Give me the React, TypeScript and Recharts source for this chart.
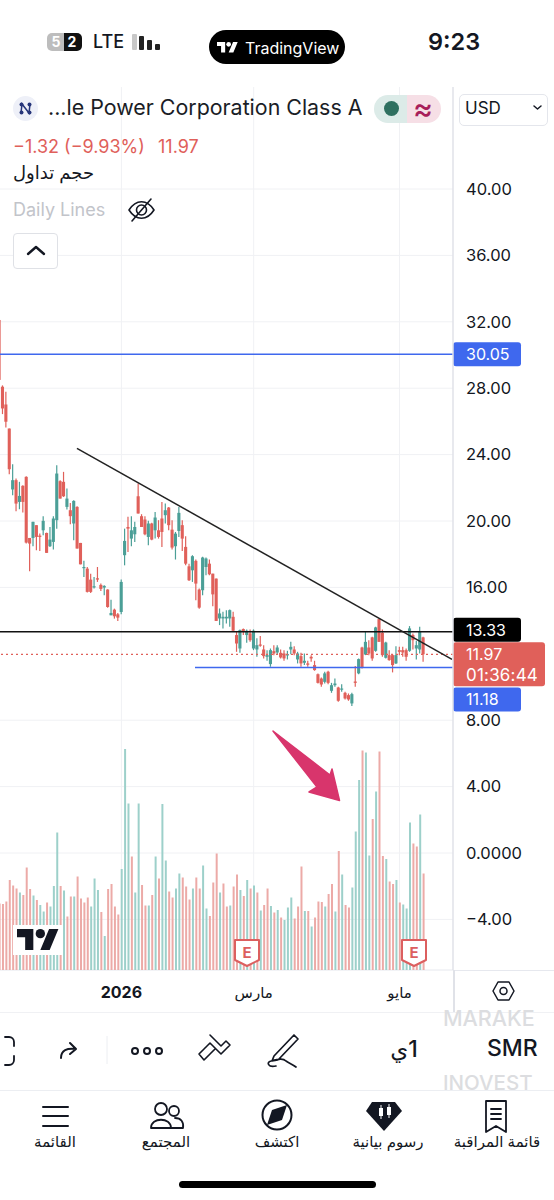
import { Bar, Cell, CartesianGrid, ComposedChart, ReferenceLine, XAxis, YAxis } from "recharts";

const FONT = "Inter, 'DejaVu Sans', sans-serif";
const RED = "#e0605a";
const GREEN = "#4b9f97";
const VOL_RED = "#ecaaa7";
const VOL_GREEN = "#9dd0ca";
const BLUE = "#3f68ee";

// oldest candle first
const highs = [
  32.11, 28.17, 27.79, 25.57, 23.42, 22.56, 22.36, 22.16, 22.7, 18.98,
  19.95, 19.75, 19.24, 20.29, 19.3, 19.64, 20.29, 23.36, 22.46, 22.96,
  21.96, 21.09, 21.25, 20.89, 18.68, 17.6, 17.23, 16.83, 16.63, 17.23,
  16.23, 16.13, 15.89, 15.26, 14.72, 14.46, 16.47, 19.54, 20.25, 20.29,
  19.95, 22.26, 20.41, 20.29, 20.01, 19.89, 20.55, 20.05, 21.15, 21.05,
  20.85, 20.05, 19.34, 20.85, 20.05, 19.08, 17.43, 17.94, 17.68, 15.93,
  17.84, 17.8, 17.68, 16.83, 16.53, 14.73, 14.53, 14.63, 14.67, 14.53,
  13.33, 13.47, 13.53, 13.47, 13.47, 13.47, 12.93, 13.07, 12.52, 12.22,
  12.32, 12.52, 12.52, 12.26, 12.22, 12.18, 12.72, 12.46, 12.12, 12.06,
  12.02, 11.58, 11.92, 11.58, 10.82, 10.57, 10.92, 10.98, 10.25, 10.51,
  10.01, 10.17, 9.71, 9.61, 9.65, 11.26, 11.72, 12.42, 13.33, 12.82,
  13.03, 13.63, 14.13, 13.47, 12.72, 12.22, 11.98, 12.46, 12.42, 12.42,
  12.32, 13.67, 13.23, 12.78, 13.63, 13.03,
];
const lows = [
  28.45, 26.44, 25.63, 22.82, 21.55, 20.59, 20.71, 20.51, 18.64, 16.97,
  18.48, 18.24, 18.2, 19.14, 18.08, 18.44, 18.28, 19.54, 21.35, 21.45,
  20.69, 19.81, 18.84, 18.34, 17.39, 16.63, 15.69, 15.67, 15.93, 16.33,
  15.79, 15.52, 14.78, 14.32, 14.12, 13.98, 14.38, 17.33, 18.14, 18.48,
  18.74, 20.45, 19.64, 19.14, 18.54, 18.84, 18.94, 18.94, 18.44, 19.85,
  19.44, 18.28, 17.68, 19.04, 18.2, 17.33, 16.39, 16.33, 15.22, 14.72,
  15.52, 16.73, 16.73, 14.86, 13.98, 13.73, 13.53, 13.83, 13.63, 13.33,
  12.12, 12.06, 13.13, 12.66, 12.72, 12.22, 11.82, 12.42, 11.72, 11.58,
  11.22, 11.92, 11.98, 11.72, 11.58, 11.66, 11.98, 11.92, 11.42, 11.22,
  11.32, 11.22, 11.52, 10.98, 10.21, 10.01, 10.21, 10.17, 9.65, 10.01,
  9.11, 9.71, 9.25, 9.17, 8.85, 10.01, 10.77, 11.12, 11.92, 11.92,
  11.58, 12.12, 12.72, 11.82, 11.72, 11.58, 10.88, 11.38, 11.92, 11.82,
  11.58, 12.12, 12.26, 11.66, 12.02, 11.52,
];
const opens = [
  32.11, 28.09, 27.02, 25.57, 21.9, 22.46, 21.15, 22.12, 22.66, 18.98,
  18.98, 19.75, 19.12, 19.44, 19.28, 18.48, 18.74, 20.05, 22.4, 22.36,
  20.85, 20.65, 19.85, 20.85, 18.68, 17.17, 17.13, 16.47, 16.0, 16.55,
  16.15, 15.99, 15.87, 14.32, 14.66, 14.38, 14.52, 17.94, 19.64, 18.94,
  19.2, 21.49, 20.29, 20.09, 19.04, 19.85, 19.44, 19.44, 20.15, 20.35,
  20.81, 19.48, 18.48, 19.4, 19.75, 18.44, 17.27, 17.03, 17.6, 15.87,
  15.83, 17.23, 17.43, 16.83, 16.53, 14.13, 14.13, 14.13, 14.13, 14.23,
  13.13, 12.32, 13.49, 13.13, 13.23, 12.32, 12.26, 12.56, 12.26, 11.82,
  11.38, 12.16, 12.08, 12.06, 12.02, 11.9, 12.26, 12.26, 11.66, 11.86,
  11.46, 11.42, 11.82, 11.32, 10.77, 10.51, 10.31, 10.92, 9.77, 10.11,
  9.97, 9.85, 9.65, 9.51, 9.01, 10.33, 10.82, 12.38, 11.96, 12.38,
  12.99, 12.18, 14.09, 13.27, 11.76, 11.92, 11.92, 11.42, 12.22, 12.22,
  12.22, 12.18, 13.13, 12.32, 12.26, 12.99,
];
const closes = [
  28.5, 26.78, 25.98, 23.12, 22.46, 21.05, 21.51, 21.15, 18.7, 18.64,
  19.95, 19.04, 19.04, 20.01, 18.08, 18.88, 20.15, 22.86, 21.35, 21.49,
  21.35, 20.29, 21.21, 18.34, 17.39, 17.23, 15.73, 15.73, 16.07, 16.47,
  15.91, 16.09, 14.82, 14.46, 14.26, 14.18, 16.33, 18.8, 19.54, 19.44,
  19.64, 20.45, 19.64, 19.2, 19.85, 18.88, 20.21, 19.04, 19.34, 20.65,
  19.75, 18.4, 19.24, 20.49, 18.94, 17.43, 16.43, 17.88, 16.23, 14.78,
  17.8, 17.74, 16.79, 15.58, 13.98, 14.43, 14.23, 14.23, 14.63, 13.39,
  12.62, 13.43, 13.33, 13.39, 12.82, 13.39, 12.52, 12.5, 11.86, 11.92,
  12.22, 12.02, 12.38, 11.78, 11.72, 11.98, 12.42, 12.02, 12.02, 11.42,
  11.58, 11.34, 11.72, 11.02, 10.25, 10.15, 10.82, 10.25, 10.11, 10.21,
  9.17, 9.91, 9.31, 9.25, 9.57, 10.25, 11.68, 11.18, 12.72, 12.02,
  11.72, 13.59, 12.72, 11.92, 12.68, 11.62, 11.32, 11.92, 12.12, 12.08,
  11.82, 13.53, 12.82, 12.52, 13.33, 11.97,
];
// millions of shares (rough, the pane has no scale of its own)
const volumes = [
  13.3, 13.2, 13.7, 18, 16.9, 16.3, 15.5, 15, 20.5, 16.2,
  14.9, 14, 13, 11.7, 13.5, 12.7, 16.8, 27.5, 16.8, 15.9,
  10.7, 14.7, 14.7, 18.7, 14.3, 13.5, 14.5, 12.7, 18.3, 16,
  11.6, 6.8, 16.2, 17.2, 12.7, 11.1, 20.2, 44.2, 33.3, 22.7,
  15.5, 33.3, 17, 12.9, 12.9, 15, 22.7, 18.3, 33.2, 21.9,
  15.7, 14.5, 16.3, 19.3, 18.5, 16.7, 14.1, 16.3, 18.5, 16.3,
  20.9, 12.3, 10.8, 17.5, 23.3, 15.5, 17.3, 12.7, 12.9, 16.7,
  19.1, 16, 14.8, 18, 16.3, 16.9, 15.5, 11.9, 13, 16.3,
  12.8, 11.5, 12, 10.5, 10, 12.5, 14.5, 10.3, 12.7, 20.7,
  11.8, 11.8, 8.7, 10.5, 13.7, 13.6, 12.7, 15.2, 17.2, 11.7,
  23.8, 19.1, 13, 12.5, 16.5, 27.7, 38, 43.9, 43.5, 22.9,
  30.2, 35.7, 43.7, 22.8, 22.2, 17.7, 17.2, 18, 13.5, 13.1,
  12.3, 29.5, 25.3, 24.7, 31.1, 19.3,
];
// colour of each volume bar as drawn: 1 = green, 0 = red
const volumeUp = [
  0, 0, 0, 0, 0, 0, 1, 0, 0, 0,
  1, 0, 1, 1, 0, 1, 1, 1, 0, 1,
  0, 0, 1, 0, 0, 0, 0, 1, 1, 1,
  0, 1, 0, 0, 0, 0, 1, 1, 1, 0,
  1, 1, 0, 0, 1, 0, 1, 0, 1, 1,
  0, 0, 1, 1, 0, 0, 0, 1, 0, 0,
  1, 1, 0, 0, 0, 1, 0, 0, 1, 0,
  0, 1, 0, 1, 0, 1, 0, 1, 0, 0,
  1, 0, 1, 0, 1, 1, 1, 0, 0, 0,
  1, 0, 1, 0, 0, 0, 1, 0, 0, 1,
  0, 1, 0, 0, 1, 1, 1, 0, 1, 1,
  0, 1, 0, 0, 1, 0, 0, 1, 0, 1,
  1, 1, 0, 0, 1, 0,
];

const priceTicks = [-4, 0, 4, 8, 16, 20, 24, 28, 32, 36, 40];
const timeTicks = [36, 75, 118];
const timeLabels = ["2026", "مارس", "مايو"];

const upperLevel = 30.05;
const resistance = 13.33;
const lastPrice = 11.97;
const support = 11.18;
const supportStart = 57.7;
const trendStart = { x: 22.9, y: 24.38 };
const trendEnd = { x: 133.47, y: 11.67 };

const candles = opens.map((open, i) => ({
  idx: i,
  open,
  close: closes[i],
  range: [lows[i], highs[i]],
}));
const volumeData = volumes.map((v, i) => ({ idx: i, v, up: volumeUp[i] }));

const X_DOMAIN = [0.212, 133.76];

function Candle(props: any) {
  const { x, y, width, height, payload } = props;
  const [low, high] = payload.range;
  const k = height / (high - low);
  const top = y + (high - Math.max(payload.open, payload.close)) * k;
  const bottom = y + (high - Math.min(payload.open, payload.close)) * k;
  const color = payload.close >= payload.open ? GREEN : RED;
  const cx = x + width / 2;
  return (
    <g>
      <line x1={cx} x2={cx} y1={y} y2={y + height} stroke={color} strokeWidth={1.2} />
      <rect x={cx - 1.55} y={top} width={3.1} height={Math.max(bottom - top, 1.2)} fill={color} />
    </g>
  );
}

function TimeTick(props: any) {
  const { x, y, payload } = props;
  const i = timeTicks.indexOf(payload.value);
  return (
    <text x={x} y={y + 20} textAnchor="middle" fontSize={i === 0 ? 16 : 15} fontWeight={i === 0 ? 700 : 400} fontFamily={FONT} fill="#131722">
      {timeLabels[i]}
    </text>
  );
}

// price flag on the right axis, shifted by dy where the flags would collide
const priceTag = (text: string, bg: string, dy: number) => (props: any) => {
  const { x, width, y } = props.viewBox;
  const left = x + width;
  return (
    <g>
      <rect x={left} y={y + dy - 12} width={68} height={24} rx={3} fill={bg} />
      <text x={left + 13} y={y + dy + 6} fontSize={16} fontFamily={FONT} fill="#fff">{text}</text>
    </g>
  );
};

const lastTag = (props: any) => {
  const { x, width, y } = props.viewBox;
  const left = x + width;
  return (
    <g>
      <rect x={left} y={y - 12} width={92} height={44} rx={3} fill={RED} />
      <text x={left + 13} y={y + 6} fontSize={16} fontFamily={FONT} fill="#fff">{lastPrice.toFixed(2)}</text>
      <text x={left + 13} y={y + 27} fontSize={17} letterSpacing={0.2} fontFamily={FONT} fill="#fff">01:36:44</text>
    </g>
  );
};

function Txt({ x, y, size = 17, color = "#131722", weight = 400, center, rtl, children }: any) {
  return (
    <div
      dir={rtl ? "rtl" : undefined}
      style={{
        position: "absolute",
        left: x,
        top: y,
        fontSize: size,
        color,
        fontWeight: weight,
        fontFamily: FONT,
        whiteSpace: "nowrap",
        lineHeight: 1,
        transform: center ? "translate(-50%,-50%)" : "translateY(-50%)",
      }}
    >
      {children}
    </div>
  );
}

function TvLogo({ x, y, w, color }: any) {
  return (
    <svg style={{ position: "absolute", left: x, top: y }} width={w} height={(w * 18) / 36} viewBox="0 4 36 18">
      <path d="M14 22H7V11H0V4h14v18zM28 22h-8l7.5-18h8L28 22z" fill={color} />
      <circle cx="20" cy="8" r="4" fill={color} />
    </svg>
  );
}

function EarningsFlag({ x }: any) {
  return (
    <svg style={{ position: "absolute", left: x, top: 938 }} width={28} height={30}>
      <path d="M2 2h24v20l-12 6-12-6z" fill="#fff" stroke="#dc5f5f" strokeWidth={2} strokeLinejoin="round" />
      <text x={14} y={20} textAnchor="middle" fontSize={15} fontWeight={700} fontFamily={FONT} fill="#dc5f5f">E</text>
    </svg>
  );
}

function Icons() {
  const s = { fill: "none", stroke: "#131722", strokeWidth: 2, strokeLinecap: "round", strokeLinejoin: "round" } as any;
  return (
    <svg style={{ position: "absolute", left: 0, top: 0 }} width={554} height={1200}>
      {/* annotation arrow */}
      <path d="M273 731 L330 775 L332 769 L339.5 800.5 L309 792 L317 787 Z" fill="#d8356c" stroke="#d8356c" strokeWidth={1.5} strokeLinejoin="round" />
      {/* eye off */}
      <path d="M129 210c7-11 18-11 25 0c-7 11-18 11-25 0z" {...s} strokeWidth={1.6} />
      <circle cx={141.5} cy={210} r={5} {...s} strokeWidth={1.6} />
      <path d="M132 221L151 199" {...s} strokeWidth={1.6} />
      {/* collapse chevron */}
      <path d="M28 254l8-7 8 7" {...s} strokeWidth={2.4} />
      {/* select chevron */}
      <path d="M534 106l3.5 3 3.5-3" {...s} strokeWidth={1.5} />
      {/* settings hexagon */}
      <path d="M493 991l5-9h11l5 9-5 9h-11z" {...s} strokeWidth={1.5} />
      <circle cx={503.5} cy={991} r={3.5} {...s} strokeWidth={1.5} />
      {/* toolbar */}
      <path d="M5 1037h4a5 5 0 0 1 5 5v4M14 1056v4a5 5 0 0 1-5 5h-4" {...s} strokeWidth={1.8} />
      <path d="M61 1058c0-8 6-10 15-9M70 1043l6 6-6 5" {...s} />
      <line x1={107} x2={107} y1={1036} y2={1064} stroke="#eceef2" />
      <circle cx={135} cy={1051} r={3} {...s} />
      <circle cx={147} cy={1051} r={3} {...s} />
      <circle cx={159} cy={1051} r={3} {...s} />
      <path d="M199 1054l11-11 11 11 9-9-4-4-5 5-11-11M199 1054l5 6 11-11" {...s} strokeWidth={1.6} />
      <path d="M274 1056l20-21 4 4-20 21-6 1zM276 1066c-8 2-10-4-5-5c8-2 12-3 15 0c3 2 6 3 10 6" {...s} strokeWidth={1.7} />
      {/* tab bar */}
      <path d="M486 1101h20v31l-10-6-10 6zM491 1109h10M491 1114h10M491 1119h10" {...s} strokeWidth={1.8} />
      <path d="M372 1102h23l7 9-18 20-18-20z" fill="#131722" />
      <rect x={379} y={1108} width={4} height={8} fill="#fff" />
      <rect x={387} y={1107} width={4} height={8} fill="#fff" />
      <line x1={381} x2={381} y1={1105} y2={1119} stroke="#fff" />
      <line x1={389} x2={389} y1={1104} y2={1118} stroke="#fff" />
      <circle cx={277} cy={1115} r={14.5} {...s} />
      <path d="M287 1105l-15 5-5 15 15-5z" fill="#131722" />
      <circle cx={161} cy={1109} r={6} {...s} strokeWidth={1.8} />
      <circle cx={174} cy={1111} r={5} {...s} strokeWidth={1.8} />
      <path d="M151 1128c0-11 20-11 20 0zM175 1118c6 0 9 4 8 10h-12" {...s} strokeWidth={1.8} />
      <path d="M43 1107h25M43 1116h25M43 1126h25" {...s} />
    </svg>
  );
}

export default function App() {
  return (
    <div style={{ position: "absolute", left: 0, top: 0, width: 554, height: 1200, background: "#fff", overflow: "hidden" }}>
      {/* price pane */}
      <div style={{ position: "absolute", left: 0, top: 87 }}>
        <ComposedChart width={554} height={925} data={candles} margin={{ top: 0, right: 0, bottom: 0, left: 0 }}>
          <CartesianGrid stroke="#f0f1f4" syncWithTicks />
          <XAxis
            dataKey="idx"
            type="number"
            domain={X_DOMAIN}
            allowDataOverflow
            ticks={timeTicks}
            interval={0}
            height={42}
            tickLine={false}
            axisLine={{ stroke: "#e6e8ee" }}
            tick={<TimeTick />}
          />
          <YAxis
            orientation="right"
            width={101}
            domain={[-7.048, 46.145]}
            allowDataOverflow
            ticks={priceTicks}
            interval={0}
            tickSize={0}
            tickMargin={13}
            axisLine={{ stroke: "#e0e2e8", strokeWidth: 1.5 }}
            tickFormatter={(v: number) => (v === 0 ? "0.0000" : v.toFixed(2).replace("-", "−"))}
            tick={{ fontSize: 16.5, fontFamily: FONT, fill: "#131722", textAnchor: "start" }}
          />
          <Bar dataKey="range" barSize={3} shape={<Candle />} isAnimationActive={false} />
          <ReferenceLine y={upperLevel} stroke={BLUE} strokeWidth={1.5} label={priceTag(upperLevel.toFixed(2), BLUE, 0)} />
          <ReferenceLine y={lastPrice} stroke={RED} strokeDasharray="2 3" strokeWidth={1.2} label={lastTag} />
          <ReferenceLine y={resistance} stroke="#111" strokeWidth={1.5} label={priceTag(resistance.toFixed(2), "#000", -2)} />
          <ReferenceLine
            segment={[{ x: supportStart, y: support }, { x: X_DOMAIN[1], y: support }]}
            stroke={BLUE}
            strokeWidth={1.5}
            label={priceTag(support.toFixed(2), BLUE, 32)}
          />
          <ReferenceLine segment={[trendStart, trendEnd]} stroke="#222" strokeWidth={1.5} />
        </ComposedChart>
      </div>

      {/* volume pane */}
      <div style={{ position: "absolute", left: 0, top: 720 }}>
        <ComposedChart width={554} height={250} data={volumeData} margin={{ top: 0, right: 101, bottom: 0, left: 0 }}>
          <XAxis dataKey="idx" type="number" domain={X_DOMAIN} allowDataOverflow hide />
          <YAxis domain={[0, 50]} hide />
          <Bar dataKey="v" barSize={2} isAnimationActive={false}>
            {volumeData.map((d) => (
              <Cell key={d.idx} fill={d.up ? VOL_GREEN : VOL_RED} />
            ))}
          </Bar>
        </ComposedChart>
      </div>

      {/* frame lines the axes do not reach */}
      <div style={{ position: "absolute", left: 453, top: 970, width: 101, height: 1, background: "#e6e8ee" }} />
      <div style={{ position: "absolute", left: 453, top: 970, width: 1.5, height: 42, background: "#e0e2e8" }} />
      <div style={{ position: "absolute", left: 0, top: 1012, width: 554, height: 1, background: "#f0f1f4" }} />
      <div style={{ position: "absolute", left: 0, top: 1090, width: 554, height: 1, background: "#eceef2" }} />

      {/* status bar */}
      <div style={{ position: "absolute", left: 47, top: 33, width: 18, height: 18, background: "#bdbdbd", borderRadius: "5px 0 0 5px" }} />
      <div style={{ position: "absolute", left: 64, top: 33, width: 18, height: 18, background: "#111", borderRadius: "0 5px 5px 0" }} />
      <Txt x={56} y={42} size={14} color="#fff" weight={700} center>5</Txt>
      <Txt x={72} y={42} size={14} color="#fff" weight={700} center>2</Txt>
      <Txt x={93} y={42} size={18} weight={500}>LTE</Txt>
      {[[132, 16, "#c8c8c8"], [139, 14, "#222"], [147, 10, "#222"], [155, 6, "#222"]].map(([x, h, c]: any) => (
        <div key={x} style={{ position: "absolute", left: x, top: 50 - h, width: 4.5, height: h, background: c, borderRadius: 1 }} />
      ))}
      <div style={{ position: "absolute", left: 209, top: 30, width: 136, height: 34, background: "#000", borderRadius: 17 }} />
      <TvLogo x={217} y={42} w={21} color="#fff" />
      <Txt x={245} y={48} size={16} color="#fff">TradingView</Txt>
      <Txt x={428} y={42} size={23.5} weight={600}>9:23</Txt>

      {/* legend */}
      <div style={{ position: "absolute", left: 13, top: 96, width: 25, height: 25, background: "#eef0f8", borderRadius: 13 }} />
      <svg style={{ position: "absolute", left: 19, top: 102 }} width={13} height={13}>
        <path d="M2 11L3 2L10 11L11 2" fill="none" stroke="#27367a" strokeWidth={1.5} />
        <circle cx={2.5} cy={2.5} r={2} fill="#27367a" />
        <circle cx={10.5} cy={2.5} r={2} fill="#27367a" />
        <circle cx={2.5} cy={10.5} r={2} fill="#27367a" />
        <circle cx={10.5} cy={10.5} r={2} fill="#27367a" />
      </svg>
      <Txt x={48} y={108} size={21.4} color="#1a1d26">...le Power Corporation Class A</Txt>
      <div style={{ position: "absolute", left: 374, top: 95, width: 33, height: 28, background: "#dcebe8", borderRadius: "14px 0 0 14px" }} />
      <div style={{ position: "absolute", left: 407, top: 95, width: 34, height: 28, background: "#f6dfe6", borderRadius: "0 14px 14px 0" }} />
      <div style={{ position: "absolute", left: 384, top: 101, width: 15, height: 15, background: "#2e7060", borderRadius: 8 }} />
      <Txt x={423} y={108} size={30} color="#a81e5a" weight={500} center>≈</Txt>
      <div style={{ position: "absolute", left: 459, top: 94, width: 87, height: 30, background: "#fff", border: "1px solid #e4e6ec", borderRadius: 5 }} />
      <Txt x={465} y={108} size={17}>USD</Txt>
      <Txt x={13} y={147} size={18} color={RED}>−1.32 (−9.93%)</Txt>
      <Txt x={158} y={147} size={18} color={RED}>11.97</Txt>
      <Txt x={13} y={173} size={18} rtl>حجم تداول</Txt>
      <Txt x={13} y={210} size={18} color="#c2c4ca">Daily Lines</Txt>
      <div style={{ position: "absolute", left: 13, top: 233, width: 43, height: 34, background: "#fff", border: "1px solid #dfe1e6", borderRadius: 4 }} />

      {/* chart badges */}
      <div style={{ position: "absolute", left: 13, top: 925, width: 50, height: 30, background: "#fff" }} />
      <TvLogo x={17} y={929} w={42} color="#131722" />
      <EarningsFlag x={233} />
      <EarningsFlag x={400} />

      {/* toolbar */}
      <Txt x={443} y={1019} size={21.5} color="#dcdde0" weight={500}>MARAKE</Txt>
      <Txt x={443} y={1083} size={20.5} color="#dcdde0" weight={500}>INOVEST</Txt>
      <Txt x={487} y={1048} size={23} weight={500}>SMR</Txt>
      <Txt x={404} y={1049} size={23} weight={500} center rtl>1ي</Txt>

      {/* tab bar */}
      <Txt x={497} y={1141} size={15} center rtl>قائمة المراقبة</Txt>
      <Txt x={388} y={1141} size={15} center rtl>رسوم بيانية</Txt>
      <Txt x={277} y={1141} size={15} center rtl>اكتشف</Txt>
      <Txt x={166} y={1141} size={15} center rtl>المجتمع</Txt>
      <Txt x={55} y={1141} size={15} center rtl>القائمة</Txt>
      <div style={{ position: "absolute", left: 179, top: 1181, width: 197, height: 7, background: "#000", borderRadius: 4 }} />

      <Icons />
    </div>
  );
}
